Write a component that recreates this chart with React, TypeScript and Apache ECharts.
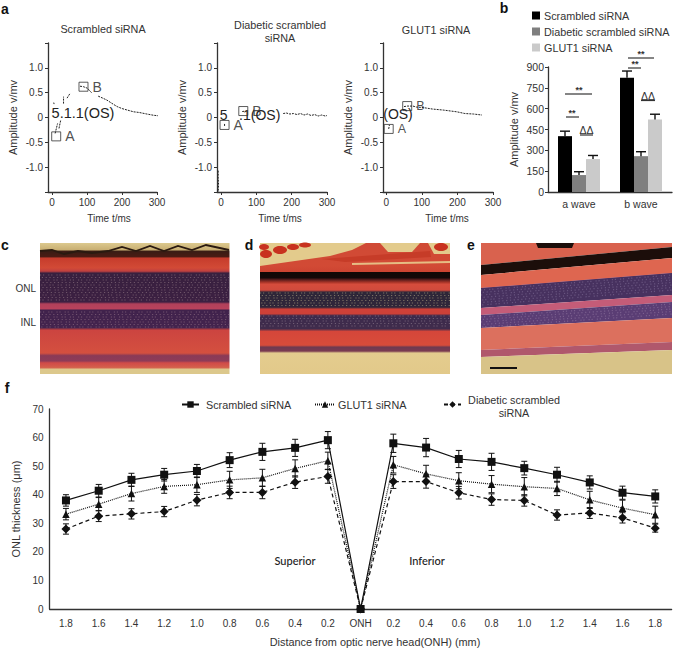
import React, { useEffect, useRef } from "react";
import * as echarts from "echarts";

const FONT = "Liberation Sans";
const INK = "#333";

// Panel a: traces as [time, amplitude]; null gaps follow the broken traces
const traceScrambled: any[] = [[5, 0.3], [6, 0.27], null, [9, -0.32], [16, -0.12], null, [20, -0.22], [25, -0.05], null, [33, 0.28], [33, 0.42], null, [43, 0.39], [52, 0.49], null, [80, 0.63], [90, 0.62], [101, 0.59], [113, 0.5], null, [132, 0.43], [145, 0.39], [157, 0.35], [170, 0.29], [186, 0.22], [200, 0.18], [215, 0.15], [233, 0.115], [250, 0.1], [271, 0.07], [290, 0.045], [310, 0.03]];
const traceDiabetic: any[] = [[-8, -1.07], [-8, -1.2], [-7, -1.35], [-8, -1.5], null, [10, -0.17], [10, -0.12], null, [60, 0.12], [70, 0.13], null, [176, 0.08], [185, 0.09], [195, 0.07], [205, 0.08], [215, 0.06], [225, 0.08], [235, 0.05], [245, 0.07], [255, 0.04], [265, 0.06], [275, 0.03], [285, 0.05], [295, 0.03], [300, 0.04]];
const traceGlut: any[] = [[7, -0.23], [9, -0.15], null, [50, 0.22], [59, 0.23], [75, 0.23], [85, 0.21], [104, 0.2], [130, 0.17], [160, 0.15], [198, 0.115], [221, 0.08], [245, 0.07], [269, 0.05]];
const peaksScrambled = [{ name: "A", value: [12, -0.38] }, { name: "B", value: [90, 0.62] }];
const peaksDiabetic = [{ name: "A", value: [10, -0.15] }, { name: "B", value: [63, 0.13] }];
const peaksGlut = [{ name: "A", value: [7, -0.23] }, { name: "B", value: [59, 0.23] }];
const amplitudeTicks = [-1.5, -1, -0.5, 0, 0.5, 1, 1.5];
const timeTicks = [0, 100, 200, 300];

// Panel b
const waves = ["a wave", "b wave"];
const barScrambled = [402, 823];
const barDiabetic = [122, 258];
const barGlut = [237, 522];
const errScrambled = [36, 48];
const errDiabetic = [24, 32];
const errGlut = [26, 38];

// Panel f
const distances = ["1.8", "1.6", "1.4", "1.2", "1.0", "0.8", "0.6", "0.4", "0.2", "ONH", "0.2", "0.4", "0.6", "0.8", "1.0", "1.2", "1.4", "1.6", "1.8"];
const onlScrambled = [38, 41.4, 45.2, 47, 48.3, 52.1, 55, 56.4, 59.1, 0, 58, 56.5, 52.5, 51.5, 49.3, 47, 44.3, 40.7, 39.4];
const onlGlut = [33.2, 36.7, 40.4, 42.9, 43.5, 45.2, 45.9, 49.2, 51.9, 0, 50.5, 47.3, 44.9, 43.7, 42.8, 42.2, 38.2, 35.3, 33];
const onlDiabetic = [28, 32.5, 33.3, 34.1, 38.1, 40.8, 40.8, 44.4, 46.4, 0, 44.6, 44.6, 40.7, 38.3, 38, 32.9, 33.6, 31.9, 28.3];
const sdScrambled = [2, 2.2, 2.3, 2.2, 2.3, 2.6, 3, 3, 3, 0, 3.2, 3.2, 3, 3, 2.4, 2.6, 2.3, 2.3, 2.3];
const sdGlut = [2, 2.3, 2.6, 2.4, 2.7, 3, 3, 3, 3, 0, 2.9, 3, 2.8, 3, 3.2, 2.5, 3, 2.8, 3];
const sdDiabetic = [1.8, 1.9, 1.8, 1.8, 2, 2.2, 2.2, 2.2, 2.4, 0, 2.4, 2.3, 2.2, 2, 2, 1.8, 1.9, 1.8, 1.4];

const text = (x: number, y: number, t: string, size = 10.5, extra: any = {}, align = "center") => ({
  type: "text", x, y, z: 20, silent: true,
  style: { text: t, fontFamily: FONT, fontSize: size, fill: INK, align, verticalAlign: "middle", lineHeight: 13, ...extra },
});
const gline = (x1: number, y1: number, x2: number, y2: number, stroke = INK, lineWidth = 1, z = 20) => ({
  type: "line", z, silent: true, shape: { x1, y1, x2, y2 }, style: { stroke, lineWidth },
});

// Micrograph bands: colour stops run down each image
type Stop = [number, string];
const bandsC: Stop[] = [[0, "#dcc98e"], [0.05, "#c9b074"], [0.065, "#3a1c14"], [0.105, "#4a1c14"], [0.115, "#c63c2c"], [0.19, "#d24a36"], [0.215, "#c04040"], [0.23, "#38203f"], [0.45, "#3c2042"], [0.465, "#b0405a"], [0.5, "#b8425c"], [0.515, "#40224c"], [0.645, "#44244e"], [0.665, "#cc4440"], [0.84, "#d4503f"], [0.86, "#8a3a56"], [0.9, "#8e3c58"], [0.915, "#d04a48"], [0.95, "#d4604c"], [0.965, "#dcc88c"], [1, "#dcc88c"]];
const bandsD: Stop[] = [[0, "#d04a35"], [0.175, "#d24a35"], [0.22, "#cd4432"], [0.225, "#120806"], [0.265, "#140808"], [0.28, "#5a1c1c"], [0.3, "#a83428"], [0.315, "#d64c3c"], [0.36, "#d04a3c"], [0.375, "#2e2638"], [0.49, "#30263a"], [0.505, "#cf4038"], [0.54, "#cc4038"], [0.555, "#3c2a4c"], [0.655, "#402c4c"], [0.675, "#d5463a"], [0.78, "#d84c3a"], [0.795, "#6e3a50"], [0.825, "#7a3a50"], [0.84, "#e4cc8e"], [1, "#e2c98a"]];

const speckle = (x1: number, x2: number, y1: number, y2: number, color: string, slope = 0) => {
  const out: any[] = [];
  let row = 0;
  for (let y = y1; y <= y2; y += 2.5) {
    const dash = row % 2 ? [1.2, 2.6] : [1.2, 1.8, 1.2, 4];
    out.push({
      type: "line", z: 3, silent: true,
      shape: { x1, y1: y, x2, y2: y + slope },
      style: { stroke: color, lineWidth: 1.2, lineDash: dash, lineDashOffset: row * 1.7, opacity: 0.5 },
    });
    row += 1;
  }
  return out;
};

const poly = (points: number[][], fill: string, z = 2) => ({ type: "polygon", z, silent: true, shape: { points }, style: { fill } });
const blob = (cx: number, cy: number, rx: number, ry: number, fill: string, z = 4) => ({
  type: "ellipse", z, silent: true, shape: { cx, cy, rx, ry }, style: { fill },
});

const micrographs = (): any[] => {
  const rect = (x: number, w: number, stops: Stop[]) => ({
    type: "rect", z: 1, silent: true, shape: { x, y: 243, width: w, height: 131 },
    style: { fill: new echarts.graphic.LinearGradient(0, 0, 0, 1, stops.map(([offset, color]) => ({ offset, color }))) },
  });
  const crinkle = [[40, 251], [52, 250], [64, 254], [78, 251], [92, 253], [108, 251], [122, 247], [136, 251], [150, 246], [164, 251], [178, 246], [192, 250], [206, 245], [229, 250]];
  // panel e runs uphill: [left y, right y] for each band edge
  const eL = 481, eR = 672;
  const band = (t: number[], b: number[], fill: string) => poly([[eL, t[0]], [eR, t[1]], [eR, b[1]], [eL, b[0]]], fill);
  return [
    rect(40, 189.5, bandsC),
    rect(260, 190, bandsD),
    { type: "polyline", z: 3, silent: true, shape: { points: crinkle }, style: { stroke: "#2a1a10", lineWidth: 1.8, fill: "none" } },
    // panel d, the tissue above the retina
    poly([[260, 243], [260, 266], [330, 256], [352, 250], [366, 243]], "#e3cb8c"),
    poly([[352, 263], [450, 261], [450, 263], [352, 265]], "#e6bd84"),
    poly([[322, 259], [430, 251], [431, 257], [345, 262]], "#c63c28", 3),
    poly([[380, 243], [420, 243], [412, 252], [388, 252]], "#e3cb8c", 3),
    poly([[428, 243], [450, 243], [450, 254], [434, 254]], "#e3cb8c", 3),
    blob(266, 254, 6, 4, "#c8321f"), blob(264, 247, 5, 3, "#c8321f"), blob(280, 250, 7, 4, "#c8321f"),
    blob(293, 247, 6, 3, "#c8321f"), blob(305, 245, 6, 2.5, "#c8321f"), blob(441, 247, 7, 4, "#c8321f"),
    // panel e
    band([243, 243], [265, 247], "#d9624e"),
    band([265, 247], [275, 258], "#1c0e0a"),
    band([275, 258], [288, 273], "#de6650"),
    band([288, 273], [289, 274], "#c9506a"),
    band([288, 273], [308, 295], "#47315f"),
    band([308, 295], [315, 302], "#c45c78"),
    band([315, 302], [328, 318], "#5a3d74"),
    band([328, 318], [350, 342], "#dc705e"),
    band([350, 342], [357, 350], "#b0586c"),
    band([357, 350], [374, 374], "#d8c388"),
    poly([[536, 243], [574, 243], [572, 248], [538, 248]], "#1c0e0a", 3),
    ...speckle(40, 229.5, 275, 301, "#a08890"),
    ...speckle(40, 229.5, 312, 327, "#a08090"),
    ...speckle(260, 450, 293, 306, "#cbbf90"),
    ...speckle(260, 450, 316, 328, "#a0909c"),
    ...speckle(481, 672, 290, 306, "#8a78a0", -15),
    ...speckle(481, 672, 317, 327, "#9a80a8", -13),
    gline(490, 368, 517, 368, "#111", 2),
  ];
};

const annotations = (): any[] => [
  text(5, 9, "a", 14, { fontWeight: "bold", fill: "#111" }),
  text(504, 8, "b", 14, { fontWeight: "bold", fill: "#111" }),
  text(5, 245, "c", 14, { fontWeight: "bold", fill: "#111" }),
  text(249, 245, "d", 14, { fontWeight: "bold", fill: "#111" }),
  text(471, 245, "e", 14, { fontWeight: "bold", fill: "#111" }),
  text(7, 388, "f", 14, { fontWeight: "bold", fill: "#111" }),
  text(103, 29, "Scrambled siRNA", 10.8),
  text(280, 31.5, "Diabetic scrambled\nsiRNA", 10.8),
  text(436, 30, "GLUT1 siRNA", 10.8),
  text(109, 218, "Time t/ms", 10),
  text(280, 218, "Time t/ms", 10),
  text(447, 218, "Time t/ms", 10),
  text(36, 288, "ONL", 10, {}, "right"),
  text(36, 322, "INL", 10, {}, "right"),
  text(83, 113, "5.1.1(OS)", 14.5, { fill: "#222" }),
  text(250, 115, "5.1.1(OS)", 14, { fill: "#222" }),
  { type: "rect", z: 21, silent: true, shape: { x: 228, y: 106, width: 11, height: 17 }, style: { fill: "#fff" } },
  { type: "rect", z: 21, silent: true, shape: { x: 254, y: 106, width: 12, height: 4 }, style: { fill: "#fff" } },
  text(398, 114, "(OS)", 14, { fill: "#222" }),
  // significance marks, panel b
  gline(565, 94, 592, 94, INK, 1.2), text(579, 90, "**", 9, { fontWeight: "bold" }),
  gline(566, 117, 579, 117, INK, 1.2), text(572, 113, "**", 9, { fontWeight: "bold" }),
  text(586.5, 130, "ΔΔ", 10.5), gline(580, 135, 593, 135, INK, 1.2),
  gline(628, 68, 641, 68, INK, 1.2), text(635, 64, "**", 9, { fontWeight: "bold" }),
  gline(628, 58, 654, 58, INK, 1.2), text(641, 54, "**", 9, { fontWeight: "bold" }),
  text(648, 96, "ΔΔ", 10.5), gline(641, 100.5, 655, 100.5, INK, 1.2),
  // panel f
  text(514, 406.5, "Diabetic scrambled\nsiRNA", 10.8),
  text(295, 560, "Superior", 11, { fontFamily: "Lato", fontWeight: 500, fill: "#222" }),
  text(427, 560, "Inferior", 11, { fontFamily: "Lato", fontWeight: 500, fill: "#222" }),
  text(375, 642, "Distance from optic nerve head(ONH) (mm)", 10.9),
];

const axisLine = { show: true, onZero: false, lineStyle: { color: INK, width: 1.3 } };
const axisTick = { show: true, length: 3, lineStyle: { color: INK, width: 1 } };
const label = { color: INK, fontFamily: FONT, fontSize: 10 };

const waveAxes = (i: number, min: number) => ({
  x: {
    type: "value", gridIndex: i, min, max: 300, splitLine: { show: false }, axisLine,
    axisTick: { ...axisTick, customValues: timeTicks },
    axisLabel: { ...label, margin: 5, customValues: timeTicks },
  },
  y: {
    type: "value", gridIndex: i, min: -1.5, max: 1.5, interval: 0.5, splitLine: { show: false }, axisLine, axisTick,
    name: "Amplitude v/mv", nameLocation: "middle", nameGap: 30,
    nameTextStyle: { color: INK, fontFamily: FONT, fontSize: 11 },
    axisLabel: {
      ...label, margin: 5,
      customValues: amplitudeTicks.filter((v) => Math.abs(v) < 1.2),
      formatter: (v: number) => (v === 0 ? "0" : v.toFixed(1)),
    },
  },
});

const waveSeries = (i: number, trace: any[], peaks: any[], labelSize: number) => [
  {
    type: "line", xAxisIndex: i, yAxisIndex: i, showSymbol: false, connectNulls: false, z: 5,
    data: trace.map((p) => p ?? [null, null]),
    lineStyle: { color: "#222", width: 1, type: [2, 1] },
  },
  {
    type: "scatter", xAxisIndex: i, yAxisIndex: i, symbol: "rect", symbolSize: 9, z: 30,
    data: peaks,
    itemStyle: { color: "rgba(255,255,255,0)", borderColor: INK, borderWidth: 1 },
    label: { show: true, position: "right", distance: 4, formatter: "{b}", color: "#222", fontFamily: FONT, fontSize: labelSize },
  },
];

const errorBars = (xAxisIndex: number, yAxisIndex: number, values: number[], errs: number[], opts: { offset?: number; cap: number; width: number; both: boolean }) => ({
  type: "custom", xAxisIndex, yAxisIndex, z: 6, silent: true,
  data: values.map((v, i) => [i, v, errs[i]]),
  encode: { x: 0, y: 1 },
  renderItem: (_: any, api: any) => {
    const i = api.value(0), v = api.value(1), e = api.value(2);
    if (!e) return { type: "group", children: [] };
    const [x] = api.coord([i, v]);
    const cx = x + (opts.offset ?? 0);
    const top = api.coord([i, v + e])[1];
    const base = api.coord([i, opts.both ? v - e : v])[1];
    const style = { stroke: "#111", lineWidth: opts.width, fill: "none" };
    const seg = (x1: number, y1: number, x2: number, y2: number) => ({ type: "line", shape: { x1, y1, x2, y2 }, style });
    const kids = [seg(cx, top, cx, base), seg(cx - opts.cap, top, cx + opts.cap, top)];
    if (opts.both) kids.push(seg(cx - opts.cap, base, cx + opts.cap, base));
    return { type: "group", children: kids };
  },
});

const bar = (name: string, data: number[], color: string) => ({
  type: "bar", name, xAxisIndex: 3, yAxisIndex: 3, data, barWidth: 14, barGap: "0%", itemStyle: { color },
});

const onl = (name: string, data: number[], symbol: string, size: number, type: any) => ({
  type: "line", name, xAxisIndex: 4, yAxisIndex: 4, data, symbol, symbolSize: size, z: 8,
  showAllSymbol: true,
  itemStyle: { color: "#111" }, lineStyle: { color: "#111", width: 1.2, type },
});

export default function App() {
  const ref = useRef<HTMLDivElement>(null);
  useEffect(() => {
    document.body.style.margin = "0";
    const chart = echarts.init(ref.current!, undefined, { renderer: "svg" });
    const a1 = waveAxes(0, -11.4), a2 = waveAxes(1, -11.4), a3 = waveAxes(2, -9);
    const S = "Scrambled siRNA", D = "Diabetic scrambled siRNA", G = "GLUT1 siRNA";
    const lg = { fontFamily: FONT, fontSize: 10.8, color: INK };
    chart.setOption({
      animation: false,
      backgroundColor: "#fff",
      grid: [
        { left: 48, top: 43, width: 109, height: 149 },
        { left: 217, top: 43, width: 110, height: 149 },
        { left: 383, top: 43, width: 110, height: 149 },
        { left: 548, top: 67, width: 124, height: 125 },
        { left: 49.6, top: 409, width: 622, height: 200 },
      ],
      xAxis: [
        a1.x, a2.x, a3.x,
        { type: "category", gridIndex: 3, data: waves, axisLine, axisTick: { show: false }, axisLabel: { ...label, fontSize: 10.5, margin: 6 } },
        { type: "category", gridIndex: 4, data: distances, axisLine, axisTick: { show: false }, axisLabel: { ...label, margin: 9, interval: 0 } },
      ],
      yAxis: [
        a1.y, a2.y, a3.y,
        {
          type: "value", gridIndex: 3, min: 0, max: 900, interval: 150, splitLine: { show: false }, axisLine, axisTick,
          name: "Amplitude v/mv", nameLocation: "middle", nameGap: 29, nameTextStyle: { color: INK, fontFamily: FONT, fontSize: 11 },
          axisLabel: { ...label, fontSize: 10.5, margin: 4 },
        },
        {
          type: "value", gridIndex: 4, min: 0, max: 70, interval: 10, splitLine: { show: false }, axisLine, axisTick: { show: false },
          name: "ONL thickness (μm)", nameLocation: "middle", nameGap: 28, nameTextStyle: { color: INK, fontFamily: FONT, fontSize: 11 },
          axisLabel: { ...label, margin: 6 },
        },
      ],
      legend: [
        {
          left: 532, top: 10, orient: "vertical", itemWidth: 8, itemHeight: 8, itemGap: 5, icon: "rect", padding: 0,
          textStyle: { ...lg, padding: [0, 0, 0, -1] }, data: [S, D, G],
        },
        { left: 181, top: 399, itemWidth: 17, itemHeight: 8, padding: 0, textStyle: { ...lg, padding: [0, 0, 0, 2] }, data: ["Scrambled"], formatter: () => S, selectedMode: false },
        { left: 314, top: 399, itemWidth: 20, itemHeight: 8, padding: 0, textStyle: { ...lg, padding: [0, 0, 0, -2] }, data: ["GLUT1"], formatter: () => G, selectedMode: false },
        { left: 443, top: 399, itemWidth: 17, itemHeight: 8, padding: 0, textStyle: lg, data: ["Diabetic"], formatter: () => " ", selectedMode: false },
      ],
      graphic: [...micrographs(), ...annotations()],
      series: [
        ...waveSeries(0, traceScrambled, peaksScrambled, 14),
        ...waveSeries(1, traceDiabetic, peaksDiabetic, 14),
        ...waveSeries(2, traceGlut, peaksGlut, 12.5),
        bar(S, barScrambled, "#000"),
        bar(D, barDiabetic, "#7f7f7f"),
        bar(G, barGlut, "#cacaca"),
        errorBars(3, 3, barScrambled, errScrambled, { offset: -14, cap: 5, width: 1.4, both: false }),
        errorBars(3, 3, barDiabetic, errDiabetic, { offset: 0, cap: 5, width: 1.4, both: false }),
        errorBars(3, 3, barGlut, errGlut, { offset: 14, cap: 5, width: 1.4, both: false }),
        onl("Scrambled", onlScrambled, "rect", 8, "solid"),
        onl("GLUT1", onlGlut, "triangle", 7.5, [1, 1]),
        onl("Diabetic", onlDiabetic, "diamond", 9, [4, 3]),
        errorBars(4, 4, onlScrambled, sdScrambled, { cap: 3, width: 1, both: true }),
        errorBars(4, 4, onlGlut, sdGlut, { cap: 3, width: 1, both: true }),
        errorBars(4, 4, onlDiabetic, sdDiabetic, { cap: 3, width: 1, both: true }),
      ],
    });
    return () => chart.dispose();
  }, []);
  return <div ref={ref} style={{ width: 675, height: 649, position: "absolute", left: 0, top: 0 }} />;
}
